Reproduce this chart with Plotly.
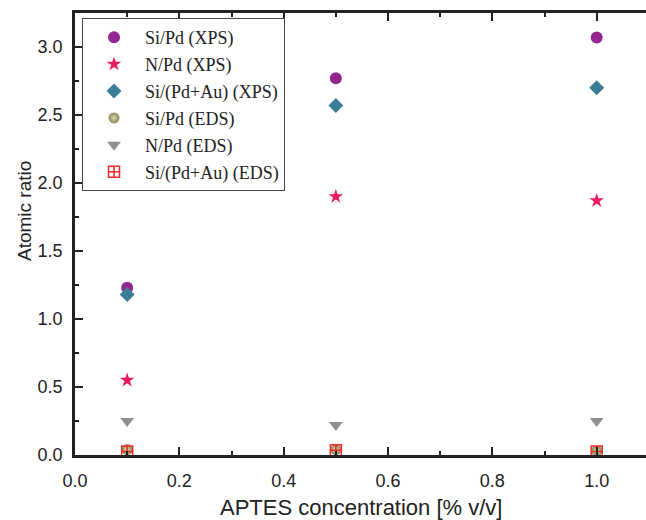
import plotly.graph_objects as go

# APTES concentration [% v/v]
conc = [0.1, 0.5, 1.0]

# Atomic ratios from XPS and EDS
si_pd_xps = [1.23, 2.77, 3.07]
n_pd_xps = [0.55, 1.90, 1.87]
si_pdau_xps = [1.18, 2.57, 2.70]
si_pd_eds = [0.04, 0.04, 0.03]
n_pd_eds = [0.25, 0.22, 0.25]
si_pdau_eds = [0.025, 0.035, 0.025]

series = [
    ("Si/Pd (XPS)", si_pd_xps, dict(symbol="circle", size=12, color="#93278F")),
    ("N/Pd (XPS)", n_pd_xps, dict(symbol="star", size=11, color="#EB1A5C")),
    ("Si/(Pd+Au) (XPS)", si_pdau_xps, dict(symbol="diamond", size=11.5, color="#3B7D97")),
    ("Si/Pd (EDS)", si_pd_eds, dict(symbol="circle", size=11, color="#8A8656",
                                     gradient=dict(type="radial", color="#D9D7B2"))),
    ("N/Pd (EDS)", n_pd_eds, dict(symbol="triangle-down", size=12, color="#909090")),
    ("Si/(Pd+Au) (EDS)", si_pdau_eds, dict(symbol="square-cross-open", size=11, color="#EE2A2A",
                                            line=dict(width=1.5, color="#EE2A2A"))),
]

fig = go.Figure()
for i, (name, vals, mk) in enumerate(series):
    fig.add_trace(go.Scatter(x=conc, y=vals, mode="markers", name=name,
                             marker=mk, legendgroup=str(i), cliponaxis=False))

axis_common = dict(
    showline=True, linewidth=2.5, linecolor="#222222",
    ticks="inside", ticklen=8, tickwidth=2, tickcolor="#222222",
    showgrid=False, zeroline=False,
    tickfont=dict(family="Liberation Sans, Arial, sans-serif", size=18, color="#222222"),
)

fig.update_xaxes(range=[0, 1.0945], dtick=0.2, tickformat=".1f", mirror="ticks",
                 minor=dict(dtick=0.1, ticks="inside", ticklen=4, tickwidth=2, tickcolor="#222222"),
                 ticklabelstandoff=8, **axis_common)
fig.update_yaxes(range=[0, 3.25], dtick=0.5, tickformat=".1f",
                 minor=dict(dtick=0.25, ticks="inside", ticklen=4, tickwidth=2, tickcolor="#222222"),
                 ticklabelstandoff=6, **axis_common)

fig.add_annotation(text="Atomic ratio", xref="paper", yref="paper", x=-0.0893, y=0.552,
                   textangle=-90, showarrow=False, xanchor="center", yanchor="middle",
                   font=dict(family="Liberation Sans, Arial, sans-serif", size=19, color="#222222"))
fig.add_annotation(text="APTES concentration [% v/v]", xref="paper", yref="paper", x=0.5, y=-0.086,
                   showarrow=False, xanchor="center", yanchor="top",
                   font=dict(family="Liberation Sans, Arial, sans-serif", size=22, color="#222222"))

fig.update_layout(
    width=646, height=520,
    margin=dict(l=75, r=0, t=13, b=65),
    paper_bgcolor="white", plot_bgcolor="white",
    showlegend=True,
    legend=dict(x=0.0123, y=0.9887, xanchor="left", yanchor="top",
                bordercolor="#444444", borderwidth=1, bgcolor="white",
                traceorder="grouped", tracegroupgap=0.5, itemwidth=52,
                font=dict(family="Liberation Serif, Times New Roman, serif", size=18, color="#222222")),
)

fig.write_html("out.html")
